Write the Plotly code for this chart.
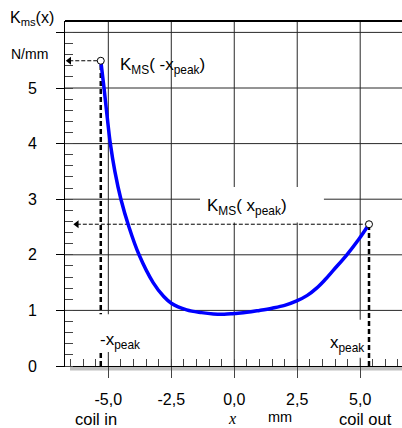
import plotly.graph_objects as go

# ---- data ----
x_mm = [-5.30, -5.17, -5.05, -4.92, -4.74, -4.50, -4.18, -3.78, -3.22, -2.80,
        -2.50, -1.89, -1.30, -0.83, -0.40, 0.00, 0.50, 1.00, 1.50, 2.00,
        2.48, 2.90, 3.27, 3.60, 3.93, 4.47, 4.93, 5.35]
k_ms = [5.49, 5.00, 4.50, 4.00, 3.50, 3.00, 2.50, 2.00, 1.50, 1.25,
        1.13, 1.01, 0.96, 0.935, 0.93, 0.945, 0.965, 1.00, 1.04, 1.09,
        1.17, 1.27, 1.40, 1.55, 1.72, 2.00, 2.27, 2.55]

x_tickvals = [-5.0, -2.5, 0.0, 2.5, 5.0]
x_ticktext = ["-5,0", "-2,5", "0,0", "2,5", "5,0"]
y_tickvals = [0, 1, 2, 3, 4, 5, 6]
y_ticktext = ["0", "1", "2", "3", "4", "5", ""]

x_peak_in, k_peak_in = x_mm[0], k_ms[0]
x_peak_out, k_peak_out = x_mm[-1], k_ms[-1]
arrow_end_in = -6.55
arrow_end_out = -6.25

# ---- layout geometry ----
W, H = 402, 428
ML, MR, MT, MB = 65, 0, 21, 62
PW, PH = W - ML - MR, H - MT - MB
X_RANGE = [-6.72, 6.66]
Y_RANGE = [0, 6.205]

def xp(px):
    return (px - ML) / PW

def yp(py):
    return (H - MB - py) / PH

FONT = "Liberation Sans, Arial, sans-serif"
GRID = "rgb(40,40,40)"

fig = go.Figure()

fig.add_trace(go.Scatter(
    x=x_mm, y=k_ms, mode="lines",
    line=dict(color="#0000ff", width=3.5, shape="spline", smoothing=1.0),
    hoverinfo="skip"))

fig.add_trace(go.Scatter(
    x=[x_peak_in, x_peak_out], y=[k_peak_in, k_peak_out], mode="markers",
    marker=dict(symbol="circle", size=7, color="white",
                line=dict(color="black", width=1)),
    hoverinfo="skip"))

fig.add_trace(go.Scatter(
    x=[arrow_end_in, arrow_end_out], y=[k_peak_in, k_peak_out], mode="markers",
    marker=dict(symbol="triangle-left", size=7, color="black"),
    hoverinfo="skip"))

thick = dict(color="black", width=2.5, dash="5px,3px")
thin = dict(color="black", width=1, dash="4px,2px")

shapes = []
# grid lines, built from the tick arrays
for xv in x_tickvals:
    shapes.append(dict(type="line", xref="x", yref="paper", x0=xv, x1=xv, y0=0, y1=1,
                       line=dict(color=GRID, width=1), layer="below"))
for yv in y_tickvals[1:]:
    shapes.append(dict(type="line", xref="paper", yref="y", x0=0, x1=1, y0=yv, y1=yv,
                       line=dict(color=GRID, width=1), layer="below"))
# top frame line
shapes.append(dict(type="line", xref="paper", yref="paper", x0=0, x1=1, y0=1, y1=1,
                   line=dict(color="black", width=2)))
# gray shadow bar under x axis
shapes.append(dict(type="rect", xref="paper", yref="paper", x0=xp(70), x1=1,
                   y0=-4.6 / PH, y1=-0.8 / PH, fillcolor="#c0c0c0",
                   line=dict(width=0), layer="below"))
# left vertical guide (hidden behind the -x_peak label box)
shapes.append(dict(type="line", xref="x", yref="y", x0=x_peak_in, x1=x_peak_in,
                   y0=0, y1=k_peak_in, line=thick, layer="between"))
# white label boxes
for (a, b, c, d) in [(-1.36, 3.56, 2.58, 3.22), (-5.9, -3.4, 0.25, 0.93), (3.4, 5.25, 0.15, 0.83)]:
    shapes.append(dict(type="rect", xref="x", yref="y", x0=a, x1=b, y0=c, y1=d,
                       fillcolor="white", line=dict(width=0), layer="between"))
# remaining guides
shapes.append(dict(type="line", xref="x", yref="y", x0=arrow_end_in, x1=x_peak_in,
                   y0=k_peak_in, y1=k_peak_in, line=thin, layer="between"))
shapes.append(dict(type="line", xref="x", yref="y", x0=x_peak_out, x1=x_peak_out,
                   y0=0, y1=k_peak_out, line=thick, layer="between"))
shapes.append(dict(type="line", xref="x", yref="y", x0=arrow_end_out, x1=x_peak_out,
                   y0=k_peak_out, y1=k_peak_out, line=thin, layer="between"))

ann = []
def add_text(text, x, y, size, xanchor="center", yanchor="middle", family=FONT, ref="paper"):
    ann.append(dict(text=text, x=x, y=y, xref=ref, yref=ref, showarrow=False,
                    xanchor=xanchor, yanchor=yanchor,
                    font=dict(family=family, size=size, color="black")))

add_text("K<sub>ms</sub>(x)", xp(8), yp(18), 16, xanchor="left")
add_text("N/mm", xp(29), yp(54), 14)
add_text("coil in", xp(96), yp(419), 16.5)
add_text("<i>x</i>", xp(232), yp(418), 16, family="Liberation Serif, Times New Roman, serif")
add_text("mm", xp(280), yp(417), 14.5)
add_text("coil out", xp(365), yp(419), 16.5)
add_text("K<sub>MS</sub>( -x<sub>peak</sub>)", xp(118), yp(66), 17, xanchor="left")
add_text("K<sub>MS</sub>( x<sub>peak</sub>)", xp(205), yp(207), 17, xanchor="left")
add_text("-x<sub>peak</sub>", xp(98), yp(341), 17, xanchor="left")
add_text("x<sub>peak</sub>", xp(328), yp(344), 17, xanchor="left")

fig.update_layout(
    width=W, height=H,
    margin=dict(l=ML, r=MR, t=MT, b=MB, pad=0),
    paper_bgcolor="white", plot_bgcolor="white",
    showlegend=False,
    shapes=shapes, annotations=ann,
    font=dict(family=FONT, color="black"),
    xaxis=dict(range=X_RANGE, tickmode="array", tickvals=x_tickvals, ticktext=x_ticktext,
               showgrid=False, zeroline=False,
               showline=True, linecolor="black", linewidth=1,
               ticks="outside", ticklen=11, tickcolor="#444", tickwidth=1,
               tickfont=dict(size=16, family=FONT), ticklabelstandoff=8,
               minor=dict(ticks="inside", ticklen=7, tickcolor="#444", tickwidth=1,
                          tick0=0, dtick=0.5),
               fixedrange=True),
    yaxis=dict(range=Y_RANGE, tickmode="array", tickvals=y_tickvals, ticktext=y_ticktext,
               showgrid=False, zeroline=False,
               showline=True, linecolor="black", linewidth=1,
               ticks="outside", ticklen=8, tickcolor="black", tickwidth=1,
               tickfont=dict(size=16, family=FONT), ticklabelstandoff=16,
               minor=dict(ticks="inside", ticklen=8, tickcolor="#444", tickwidth=1,
                          tick0=0, dtick=0.2),
               fixedrange=True),
)

fig.write_html("out.html")
